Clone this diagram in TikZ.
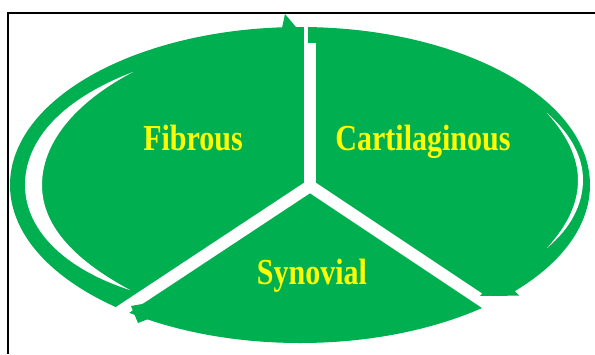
\documentclass[tikz,border=0pt]{standalone}
\usepackage{fontspec}
\setmainfont{Liberation Serif}
\usepackage{xcolor}
\usepackage{tikz}
\definecolor{jointgreen}{HTML}{00B050}
\definecolor{labelyellow}{HTML}{FFFF00}
\newcommand{\tallword}[1]{\scalebox{1}[1.22]{#1}}

\begin{document}
\begin{tikzpicture}[x=1pt, y=-1pt,
  gap/.style={white, line width=12pt, line join=miter},
  barb/.style={fill=jointgreen},
  jointlabel/.style={text=labelyellow, inner sep=0pt, anchor=base,
                     font=\fontsize{30}{34}\selectfont\bfseries},
]
\useasboundingbox (0,0) rectangle (595,354);
% frame
\draw[line width=2pt] (8.3,354) -- (8.3,12.5) -- (595,12.5);

% green disc and the two thin crescents
\fill[jointgreen] (300,185) ellipse [x radius=290, y radius=158];
\fill[white] (133,72) .. controls (55,102) and (25,145) .. (25,185)
  .. controls (25,228) and (62,268) .. (130,290)
  .. controls (78,262) and (42,228) .. (42,185)
  .. controls (42,145) and (72,104) .. (133,72) -- cycle;
\fill[white] (547,113) .. controls (572,135) and (583,158) .. (583,180)
  .. controls (583,204) and (571,228) .. (547,248)
  .. controls (567,226) and (578,204) .. (578,180)
  .. controls (578,158) and (567,135) .. (547,113) -- cycle;

% white gaps between the three parts
\coordinate (J) at (310,186);
\coordinate (top) at (310,18);
\coordinate (lowleft) at (96.25,327.25);
\coordinate (lowright) at (523.75,328.5);
\draw[gap] (lowleft) -- (J) -- (lowright);
\draw[gap] (J) -- (top);
\fill[white] (483,295.5) rectangle (530,320);

% arrow barbs
\fill[barb] (282,28) -- (285,14) -- (303.5,36) -- (303.5,50) -- (282,50) -- cycle;
\fill[barb] (308,27.3) rectangle (316.6,43);
\fill[barb] (486,289) -- (480,296) -- (519,295.5) -- (512,288) -- cycle;
\fill[barb] (131,306) -- (138,323) -- (147,319.5) -- (170,300) -- (145,303.5) -- cycle;

\node[jointlabel] (fibrous) at (193,150) {\tallword{Fibrous}};
\node[jointlabel] (cartilaginous) at (423,150) {\tallword{Cartilaginous}};
\node[jointlabel] (synovial) at (312,284) {\tallword{Synovial}};
\end{tikzpicture}
\end{document}
